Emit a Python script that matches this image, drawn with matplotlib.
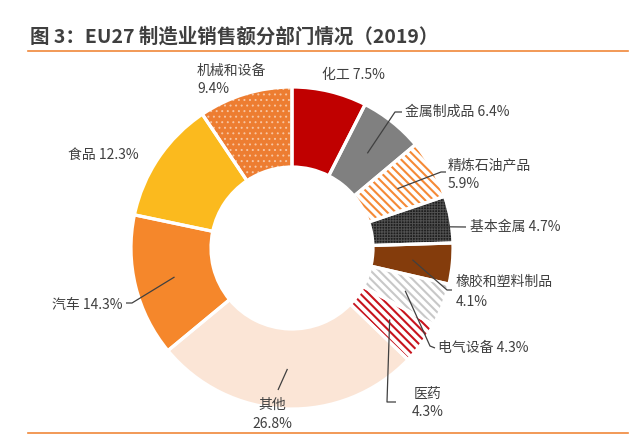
#!/usr/bin/env python3
# -*- coding: utf-8 -*-

import numpy as np
import matplotlib
matplotlib.use('Agg')
import matplotlib.pyplot as plt

plt.rcParams['font.family'] = ['Noto Sans CJK SC', 'DejaVu Sans']

# data (clockwise from 12 o'clock)
sectors = ['化工', '金属制成品', '精炼石油产品', '基本金属', '橡胶和塑料制品',
           '电气设备', '医药', '其他', '汽车', '食品', '机械和设备']
shares = [7.5, 6.4, 5.9, 4.7, 4.1, 4.3, 4.3, 26.8, 14.3, 12.3, 9.4]

title = '图 3：EU27 制造业销售额分部门情况（2019）'

# styles: face colour, hatch, hatch colour
stripe = '\\' * 4
face = ['#C00000', '#808080', 'white', '#1E1E1E', '#843C0C',
        'white', 'white', '#FBE5D6', '#F5872B', '#FBBA1E', '#ED7D31']
hatch = [None, None, stripe, '++++++', None,
         stripe, stripe, None, None, None, '...']
hatch_col = [None, None, '#F58A36', '#505050', None,
             '#C8C8C8', '#C8141E', None, None, None, '#F7C4A0']
hatch_lw = {stripe: 1.5, '++++++': 0.7, '...': 0.7}

W, H = 641, 436
def P(x, y):
    # pixel coords (top-left origin) -> axes coords
    return x, H - y

cx, cy = 292, 248
r_out, r_in = 161, 81
txt_col = '#404040'

fig = plt.figure(figsize=(W / 100, H / 100), dpi=100)
ax = fig.add_axes([0, 0, 1, 1])

# faces + hatches
plt.rcParams['hatch.linewidth'] = 1.5
wedges, _ = ax.pie(shares, colors=face, startangle=90, counterclock=False,
                   radius=r_out, center=P(cx, cy),
                   wedgeprops=dict(width=r_out - r_in, linewidth=0))
for w, h, hc in zip(wedges, hatch, hatch_col):
    if h is None:
        continue
    w.set_hatch(h)
    w.set_edgecolor(hc)
    w.set_linewidth(0)
    if hasattr(w, 'set_hatch_linewidth'):
        w.set_hatch_linewidth(hatch_lw[h])

# white separators on top
ax.pie(shares, colors=['none'] * len(shares), startangle=90, counterclock=False,
       radius=r_out, center=P(cx, cy),
       wedgeprops=dict(width=r_out - r_in, linewidth=2.3, edgecolor='white',
                       facecolor='none'))

# labels: (text line anchors, ha, leader bend points)
layout = {
    0: ([(322, 75)], 'left', []),
    1: ([(405, 112)], 'left', [(395, 112), (402, 112)]),
    2: ([(448, 165), (448, 184)], 'left', [(441, 172), (446, 172)]),
    3: ([(470, 227)], 'left', [(466, 227)]),
    4: ([(456, 282), (456, 302)], 'left', [(447, 290), (452, 290)]),
    5: ([(438, 348)], 'left', [(430, 346), (435, 348)]),
    6: ([(428, 394), (428, 412)], 'center', [(387, 402), (396, 402)]),
    7: ([(272, 405), (272, 424)], 'center', [(278, 390)]),
    8: ([(122, 305)], 'right', [(132, 303), (126, 303)]),
    9: ([(68, 155)], 'left', []),
    10: ([(197, 71), (197, 89)], 'left', []),
}

cum = np.cumsum([0] + shares)
r_mid = (r_out + r_in) / 2
for i, (name, v) in enumerate(zip(sectors, shares)):
    pos, ha, bends = layout[i]
    pct = f'{v}%'
    if len(pos) == 1:
        ax.text(*P(*pos[0]), f'{name} {pct}', ha=ha, va='center',
                fontsize=10, color=txt_col)
    else:
        ax.text(*P(*pos[0]), name, ha=ha, va='center', fontsize=10, color=txt_col)
        ax.text(*P(*pos[1]), pct, ha=ha, va='center', fontsize=10, color=txt_col)
    if bends:
        mid = (cum[i] + cum[i + 1]) / 2 / 100 * 360
        a = np.deg2rad(90 - mid)
        sx, sy = cx + r_mid * np.cos(a), cy - r_mid * np.sin(a)
        pts = [(sx, sy)] + bends
        xs = [p[0] for p in pts]
        ys = [H - p[1] for p in pts]
        ax.plot(xs, ys, color='#404040', lw=0.9, solid_capstyle='butt')

# title and rules
ax.text(*P(30, 37), title, fontsize=14, fontweight='bold', color='#3F3F3F',
        va='center', ha='left')
ax.plot([28, 628], [H - 51, H - 51], color='#F0883A', lw=1.2)
ax.plot([28, 628], [H - 433, H - 433], color='#F0883A', lw=1.2)

ax.set_xlim(0, W)
ax.set_ylim(0, H)
ax.axis('off')

fig.savefig('out.png', dpi=100)
